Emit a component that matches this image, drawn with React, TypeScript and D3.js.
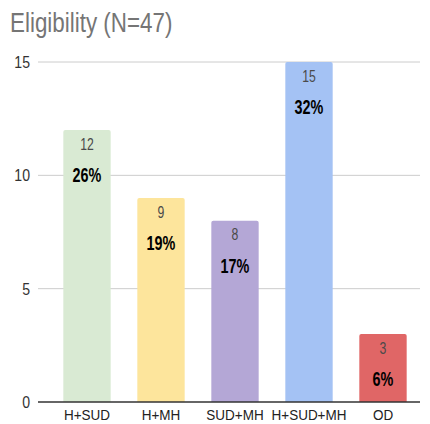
import React, { useEffect, useRef } from "react";
import * as d3 from "d3";

const categories = ["H+SUD", "H+MH", "SUD+MH", "H+SUD+MH", "OD"];
const counts = [12, 9, 8, 15, 3];
const percents = ["26%", "19%", "17%", "32%", "6%"];
const colors = ["#d9ead3", "#fde59c", "#b4a7d6", "#a4c2f4", "#e06666"];
const yTicks = [0, 5, 10, 15];

const FONT = "'Liberation Sans', Arial, sans-serif";

const App: React.FC = () => {
  const svgRef = useRef<SVGSVGElement>(null);

  useEffect(() => {
    document.body.style.margin = "0";
    if (!svgRef.current) return;
    const svg = d3.select(svgRef.current);
    const width = 430;
    const height = 424;
    svg.attr("width", width).attr("height", height);

    const x = d3
      .scaleBand<string>()
      .domain(categories)
      .range([50, 420])
      .paddingInner(0.36)
      .paddingOuter(0.18);
    const y = d3.scaleLinear().domain([0, 15]).range([402, 62]);

    // squeezed text helper (reference text is horizontally condensed)
    const label = (
      parent: d3.Selection<any, any, any, any>,
      tx: number,
      ty: number,
      sx: number
    ) =>
      parent
        .append("g")
        .attr("transform", `translate(${tx},${ty}) scale(${sx},1)`)
        .append("text")
        .style("font-family", FONT);

    label(svg, 10, 32, 0.8)
      .attr("fill", "#757575")
      .style("font-size", "28px")
      .text("Eligibility (N=47)");

    // gridlines
    svg
      .selectAll(".grid")
      .data(yTicks.filter((t) => t > 0))
      .enter()
      .append("line")
      .attr("x1", 38)
      .attr("x2", 420)
      .attr("y1", (d) => y(d))
      .attr("y2", (d) => y(d))
      .attr("stroke", "#cccccc")
      .attr("stroke-width", 1);

    // y labels
    yTicks.forEach((t) => {
      label(svg, 30, y(t) + 6, 0.88)
        .attr("text-anchor", "end")
        .attr("fill", "#333")
        .style("font-size", "16px")
        .text(t);
    });

    // bars
    svg
      .selectAll(".bar")
      .data(categories)
      .enter()
      .append("path")
      .attr("fill", (_, i) => colors[i])
      .attr("d", (d, i) => {
        const x0 = x(d)!;
        const w = x.bandwidth();
        const top = y(counts[i]);
        const bottom = y(0);
        const r = 2;
        return `M${x0},${bottom}V${top + r}Q${x0},${top} ${x0 + r},${top}H${x0 + w - r}Q${x0 + w},${top} ${x0 + w},${top + r}V${bottom}Z`;
      });

    categories.forEach((c, i) => {
      const cx = x(c)! + x.bandwidth() / 2;
      const top = y(counts[i]);
      label(svg, cx, top + 19.5, 0.72)
        .attr("text-anchor", "middle")
        .attr("fill", "#4a4a4a")
        .style("font-size", "17px")
        .text(counts[i]);
      label(svg, cx, top + 52, 0.72)
        .attr("text-anchor", "middle")
        .attr("fill", "#000")
        .style("font-size", "20px")
        .style("font-weight", "bold")
        .text(percents[i]);
    });

    // baseline
    svg
      .append("line")
      .attr("x1", 38)
      .attr("x2", 420)
      .attr("y1", y(0))
      .attr("y2", y(0))
      .attr("stroke", "#333")
      .attr("stroke-width", 1.5);

    // x labels
    categories.forEach((c) => {
      label(svg, x(c)! + x.bandwidth() / 2, 420, 0.9)
        .attr("text-anchor", "middle")
        .attr("fill", "#222")
        .style("font-size", "15px")
        .text(c);
    });

    return () => {
      svg.selectAll("*").remove();
    };
  }, []);

  return <svg ref={svgRef} style={{ display: "block", background: "#fff" }} />;
};

export default App;
